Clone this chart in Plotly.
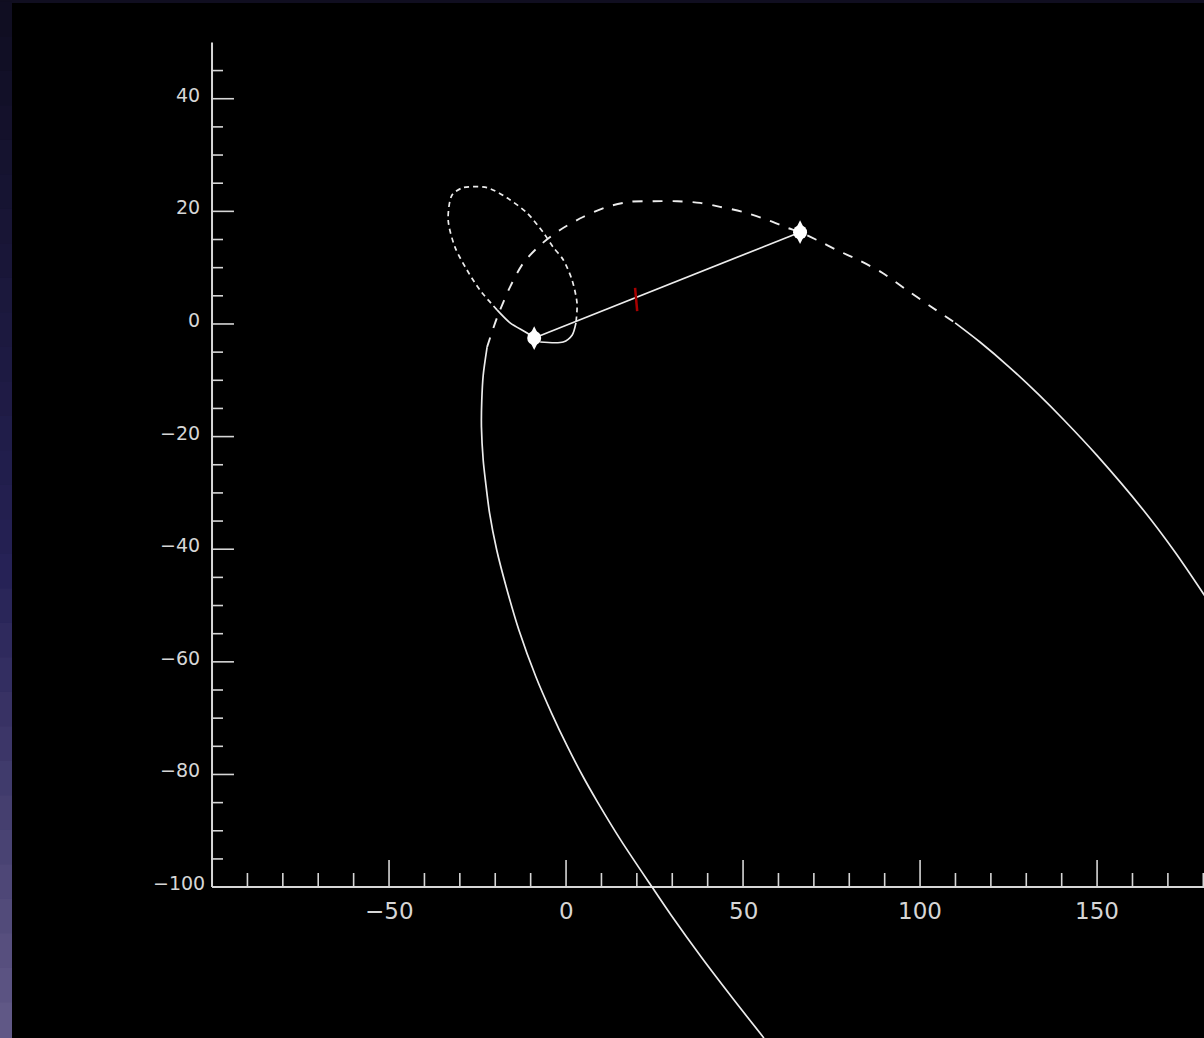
import plotly.graph_objects as go

# ---------------- data ----------------
# large orbit, lower solid branch (bottom of picture up to the crossing)
orbit_lower_x = [55.9, 47.5, 38.4, 29.7, 24.3, 15.5, 8.9, 4.9, 0.2, -4.1, -8.5, -13.3,
                 -16.9, -19.6, -21.6, -22.7, -23.4, -23.9, -23.8, -23.4, -22.3]
orbit_lower_y = [-126.8, -120.1, -112.6, -105.0, -100.0, -91.7, -84.9, -80.5, -74.8, -69.1,
                 -62.7, -54.4, -46.7, -40.1, -33.6, -28.2, -24.2, -18.3, -13.5, -9.1, -4.1]
# large orbit, dashed upper arc
orbit_arc_x = [-22.3, -20.9, -19.2, -15.8, -12.1, -7.3, -1.7, 4.8, 11.6, 18.1, 24.6, 31.4,
               37.9, 43.5, 50.0, 56.8, 62.4, 66.1, 70.9, 76.6, 83.1, 89.3, 96.3, 102.8, 109.9]
orbit_arc_y = [-4.1, -1.4, 1.6, 6.6, 10.8, 14.0, 16.7, 19.0, 20.8, 21.7, 21.8, 21.8,
               21.5, 20.8, 19.9, 18.5, 17.1, 16.3, 14.9, 13.1, 11.2, 9.1, 6.0, 3.2, 0.2]
# large orbit, right solid branch
orbit_right_x = [109.9, 116.9, 125.1, 133.6, 140.7, 149.9, 163.0, 172.0, 181.2]
orbit_right_y = [0.2, -3.2, -7.6, -12.6, -17.1, -23.3, -33.0, -40.5, -49.0]

# small loop around the first body
loop_start_x = [-9.0, -11.0, -15.8, -19.5]
loop_start_y = [-2.5, -1.6, 0.2, 2.5]
loop_dash_x = [-19.5, -24.3, -28.0, -31.4, -33.3, -32.2, -29.1, -22.3, -16.7, -11.0,
               -6.5, -3.7, -0.8, 1.7, 3.1, 2.8]
loop_dash_y = [2.5, 6.0, 9.6, 13.7, 18.5, 22.9, 24.2, 24.2, 22.4, 19.7,
               16.3, 13.7, 11.4, 7.8, 3.7, 0.2]
loop_end_x = [2.8, 1.7, -0.8, -7.3]
loop_end_y = [0.2, -2.0, -3.2, -3.2]

# the two bodies and the mark between them
body_x = [-9.0, 66.1]
body_y = [-2.5, 16.3]
mark_x = [19.5, 20.1]
mark_y = [6.4, 2.3]

# axes
x_major = [-50, 0, 50, 100, 150]
x_minor = [v for v in range(-90, 181, 10) if v not in x_major]
x_labels = ["\u221250", "0", "50", "100", "150"]
y_major = [-80, -60, -40, -20, 0, 20, 40]
y_minor = [v for v in range(-95, 46, 5) if v not in y_major]
y_labels = ["\u221280", "\u221260", "\u221240", "\u221220", "0", "20", "40"]
axis_x0, axis_y0 = -100, -100
x_axis_end, y_axis_end = 182, 50

# ---------------- figure ----------------
W, H = 1204, 1038
ML, MT = 12, 3
XR = [-156.5, 180.2]
YR = [-126.8, 57.0]
LINE = "#ececec"
AXC = "#d6d6d6"
PAPER = "#100e20"

fig = go.Figure()


def seg_trace(xs, ys, width, color=AXC):
    fig.add_trace(go.Scatter(x=xs, y=ys, mode="lines", line=dict(color=color, width=width),
                             hoverinfo="skip", showlegend=False))


# axis lines
seg_trace([axis_x0, x_axis_end], [axis_y0, axis_y0], 2)
seg_trace([axis_x0, axis_x0], [axis_y0, y_axis_end], 2)

# ticks (lengths in data units)
xmaj_len, xmin_len = 4.8, 2.5
ymaj_len, ymin_len = 6.2, 3.1
tx, ty = [], []
for v in x_major:
    tx += [v, v, None]; ty += [axis_y0, axis_y0 + xmaj_len, None]
for v in x_minor:
    tx += [v, v, None]; ty += [axis_y0, axis_y0 + xmin_len, None]
for v in y_major:
    tx += [axis_x0, axis_x0 + ymaj_len, None]; ty += [v, v, None]
for v in y_minor:
    tx += [axis_x0, axis_x0 + ymin_len, None]; ty += [v, v, None]
seg_trace(tx, ty, 1.6)


def curve(xs, ys, dash=None, width=1.7):
    ln = dict(color=LINE, width=width, shape="spline", smoothing=0.8)
    if dash:
        ln["dash"] = dash
    fig.add_trace(go.Scatter(x=xs, y=ys, mode="lines", line=ln, hoverinfo="skip", showlegend=False))


# orbits
curve(orbit_lower_x, orbit_lower_y)
curve(orbit_arc_x, orbit_arc_y, dash="10px,10px", width=1.9)
curve(orbit_right_x, orbit_right_y)
curve(loop_start_x, loop_start_y)
curve(loop_dash_x, loop_dash_y, dash="5px,4px")
curve(loop_end_x, loop_end_y)

# connecting line
fig.add_trace(go.Scatter(x=body_x, y=body_y, mode="lines", line=dict(color=LINE, width=1.7),
                         hoverinfo="skip", showlegend=False))
# red mark
fig.add_trace(go.Scatter(x=mark_x, y=mark_y, mode="lines", line=dict(color="#a80000", width=2.5),
                         hoverinfo="skip", showlegend=False))
# bodies
fig.add_trace(go.Scatter(x=body_x, y=body_y, mode="markers",
                         marker=dict(symbol="diamond-tall", size=17, color="white", line=dict(width=0)),
                         hoverinfo="skip", showlegend=False))
fig.add_trace(go.Scatter(x=body_x, y=body_y, mode="markers",
                         marker=dict(symbol="circle", size=14, color="white", line=dict(width=0)),
                         hoverinfo="skip", showlegend=False))

# tick labels
ann = []
for v, t in zip(x_major, x_labels):
    ann.append(dict(x=v, y=axis_y0, text=t, showarrow=False, xanchor="center", yanchor="middle",
                    yshift=-24, font=dict(family="DejaVu Sans", size=23, color=AXC)))
for v, t in zip(y_major, y_labels):
    ann.append(dict(x=axis_x0, y=v, text=t, showarrow=False, xanchor="right", yanchor="middle",
                    xshift=-10, yshift=4, font=dict(family="DejaVu Sans", size=19, color=AXC)))
ann.append(dict(x=axis_x0, y=axis_y0, text="\u2212100", showarrow=False, xanchor="right", yanchor="middle",
                xshift=-5, yshift=4, font=dict(family="DejaVu Sans", size=19, color=AXC)))

# left gradient strip (decoration)
shapes = []
n = 30
pw = W - ML
c0 = (16, 14, 34)
c1 = (38, 34, 86)
c2 = (96, 88, 134)
for i in range(n):
    f = i / (n - 1)
    if f < 0.55:
        g = f / 0.55
        c = tuple(int(c0[k] + (c1[k] - c0[k]) * g) for k in range(3))
    else:
        g = (f - 0.55) / 0.45
        c = tuple(int(c1[k] + (c2[k] - c1[k]) * g) for k in range(3))
    y1 = 1 - i / n
    y0 = 1 - (i + 1) / n
    shapes.append(dict(type="rect", xref="paper", yref="paper", x0=-ML / pw, x1=0,
                       y0=y0 - 0.001, y1=y1 + 0.001, fillcolor="rgb(%d,%d,%d)" % c, line=dict(width=0),
                       layer="below"))

fig.update_layout(
    width=W, height=H,
    margin=dict(l=ML, r=0, t=MT, b=0, pad=0),
    paper_bgcolor=PAPER,
    plot_bgcolor="black",
    xaxis=dict(range=XR, visible=False, fixedrange=True),
    yaxis=dict(range=YR, visible=False, fixedrange=True),
    annotations=ann,
    shapes=shapes,
    showlegend=False,
)

fig.write_html(
    "out.html",
    config={"displayModeBar": False},
    post_script="document.body.style.margin='0';document.body.style.background='%s';"
                "document.body.style.overflow='hidden';" % PAPER,
)
